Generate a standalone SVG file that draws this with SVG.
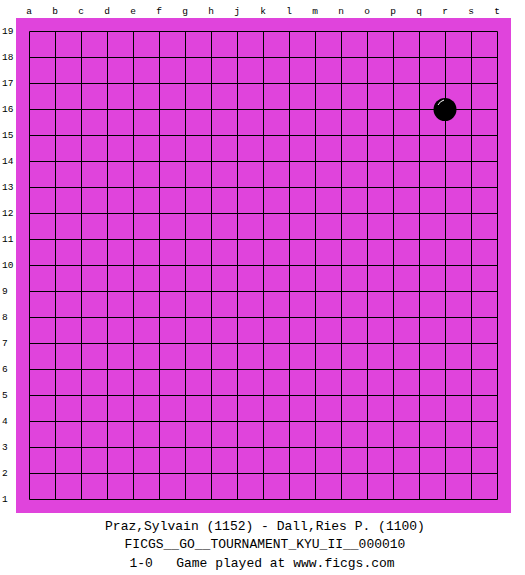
<svg xmlns="http://www.w3.org/2000/svg" width="525" height="575" viewBox="0 0 525 575">
<style>
.lbl{font-family:"Liberation Mono","DejaVu Sans Mono",monospace;font-size:9.5px;fill:#000}
.cap{font-family:"Liberation Mono","DejaVu Sans Mono",monospace;font-size:13px;fill:#000;text-anchor:middle}
.g{stroke:#000;stroke-width:1;fill:none}
</style>
<rect width="525" height="575" fill="#fff"/>
<g id="board">
<rect x="16" y="18" width="495" height="495" fill="#E044DC"/>
<path class="g" d="M29.5 31.5V499.5M55.5 31.5V499.5M81.5 31.5V499.5M107.5 31.5V499.5M133.5 31.5V499.5M159.5 31.5V499.5M185.5 31.5V499.5M211.5 31.5V499.5M237.5 31.5V499.5M263.5 31.5V499.5M289.5 31.5V499.5M315.5 31.5V499.5M341.5 31.5V499.5M367.5 31.5V499.5M393.5 31.5V499.5M419.5 31.5V499.5M445.5 31.5V499.5M471.5 31.5V499.5M497.5 31.5V499.5M29.5 31.5H497.5M29.5 57.5H497.5M29.5 83.5H497.5M29.5 109.5H497.5M29.5 135.5H497.5M29.5 161.5H497.5M29.5 187.5H497.5M29.5 213.5H497.5M29.5 239.5H497.5M29.5 265.5H497.5M29.5 291.5H497.5M29.5 317.5H497.5M29.5 343.5H497.5M29.5 369.5H497.5M29.5 395.5H497.5M29.5 421.5H497.5M29.5 447.5H497.5M29.5 473.5H497.5M29.5 499.5H497.5"/>
</g>
<g id="col-labels" class="lbl" text-anchor="middle">
<text x="29" y="14">a</text><text x="55" y="14">b</text><text x="81" y="14">c</text><text x="107" y="14">d</text><text x="133" y="14">e</text><text x="159" y="14">f</text><text x="185" y="14">g</text><text x="211" y="14">h</text><text x="237" y="14">j</text><text x="263" y="14">k</text><text x="289" y="14">l</text><text x="315" y="14">m</text><text x="341" y="14">n</text><text x="367" y="14">o</text><text x="393" y="14">p</text><text x="419" y="14">q</text><text x="445" y="14">r</text><text x="471" y="14">s</text><text x="497" y="14">t</text>
</g>
<g id="row-labels" class="lbl">
<text x="2" y="34">19</text><text x="2" y="60">18</text><text x="2" y="86">17</text><text x="2" y="112">16</text><text x="2" y="138">15</text><text x="2" y="164">14</text><text x="2" y="190">13</text><text x="2" y="216">12</text><text x="2" y="242">11</text><text x="2" y="268">10</text><text x="2" y="294">9</text><text x="2" y="320">8</text><text x="2" y="346">7</text><text x="2" y="372">6</text><text x="2" y="398">5</text><text x="2" y="424">4</text><text x="2" y="450">3</text><text x="2" y="476">2</text><text x="2" y="502">1</text>
</g>
<g id="stone-r16">
<circle cx="445" cy="109.5" r="11.5" fill="#000"/>
<path d="M438 105 Q440 101 444 100" stroke="#fff" stroke-width="1" fill="none"/>
</g>
<g id="caption">
<text class="cap" x="265" y="530">Praz,Sylvain (1152) - Dall,Ries P. (1100)</text>
<text class="cap" x="265" y="548">FICGS__GO__TOURNAMENT_KYU_II__000010</text>
<text class="cap" x="262" y="567" xml:space="preserve">1-0   Game played at www.ficgs.com</text>
</g>
</svg>
